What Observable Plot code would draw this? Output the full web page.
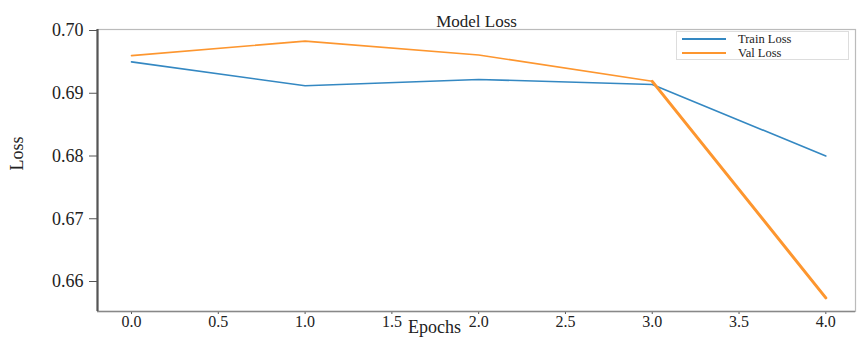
<!DOCTYPE html>
<html>
<head>
<meta charset="utf-8">
<script src="https://cdn.jsdelivr.net/npm/d3@7"></script>
<script src="https://cdn.jsdelivr.net/npm/@observablehq/plot@0.6"></script>
<style>
  html, body { margin: 0; padding: 0; background: #fff; }
  #wrap { position: relative; width: 858px; height: 338px; font-family: "Liberation Serif", "DejaVu Serif", serif; }
  #legend { position: absolute; left: 676px; top: 31px; width: 173px; height: 29px; border: 1px solid #ddd; background: #fff; box-sizing: border-box; font-size: 12.5px; color: #222; }
  .row { position: absolute; left: 5px; height: 14px; display: flex; align-items: center; }
  .sw { width: 44px; height: 2px; margin-right: 12px; }
  .lab { line-height: 14px; }
  svg text { font-family: "Liberation Serif", "DejaVu Serif", serif !important; font-variant: normal !important; }
</style>
</head>
<body>
<div id="wrap"></div>
<script>
const epochs = [0, 1, 2, 3, 4];
const trainLoss = [0.6950, 0.6912, 0.6922, 0.6914, 0.6800];
const valLoss = [0.6960, 0.6983, 0.6961, 0.6919, 0.6574];
const xTicks = [0, 0.5, 1, 1.5, 2, 2.5, 3, 3.5, 4];
const yTicks = [0.66, 0.67, 0.68, 0.69, 0.70];
const seriesNames = ["Train Loss", "Val Loss"];
const seriesColors = ["#3488c2", "#fd962f"];

const train = epochs.map((e, i) => ({epoch: e, loss: trainLoss[i]}));
const val = epochs.map((e, i) => ({epoch: e, loss: valLoss[i]}));
const xDomain = [-0.196, 4.171];
const yDomain = [0.65522, 0.70016];
const serif = "Liberation Serif, DejaVu Serif, serif";

const chart = Plot.plot({
  width: 858,
  height: 338,
  marginLeft: 97,
  marginRight: 3,
  marginTop: 29,
  marginBottom: 27,
  style: {fontFamily: serif, background: "#fff", overflow: "visible"},
  x: {domain: xDomain},
  y: {domain: yDomain},
  marks: [
    Plot.frame({stroke: "#bbb", strokeWidth: 1.2}),
    Plot.axisY({ticks: yTicks, tickFormat: d3.format(".2f"), tickSize: 8, tickPadding: 6, fontSize: 18, fontFamily: serif, stroke: "#555", color: "#222", label: null}),
    Plot.axisX({ticks: xTicks, tickFormat: d3.format(".1f"), tickSize: 3, tickPadding: 1, fontSize: 16, fontFamily: serif, stroke: "#555", color: "#222", label: null}),
    Plot.ruleY([yDomain[0]], {stroke: "#888", strokeWidth: 1.5}),
    Plot.ruleX([xDomain[0]], {stroke: "#555", strokeWidth: 2.2}),
    Plot.line(train, {x: "epoch", y: "loss", stroke: seriesColors[0], strokeWidth: 1.6}),
    Plot.line(val, {x: "epoch", y: "loss", stroke: seriesColors[1], strokeWidth: 1.6}),
    Plot.line(val.filter(d => d.epoch >= 3), {x: "epoch", y: "loss", stroke: seriesColors[1], strokeWidth: 3}),
    Plot.text(["Model Loss"], {frameAnchor: "top", dy: -15, fontSize: 17, fontFamily: serif, fill: "#222"}),
    Plot.text(["Epochs"], {frameAnchor: "bottom", dx: -42, dy: 21, fontSize: 18, fontFamily: serif, fill: "#222"}),
    Plot.text(["Loss"], {frameAnchor: "left", dx: -80, dy: 0, rotate: -90, fontSize: 18, fontFamily: serif, fill: "#222"})
  ]
});

d3.select(chart).selectAll("text").attr("font-family", serif).style("font-family", serif);

const wrap = document.getElementById("wrap");
wrap.appendChild(chart);
const legend = document.createElement("div");
legend.id = "legend";
seriesNames.forEach((name, i) => {
  const row = document.createElement("div");
  row.className = "row";
  row.style.top = (i * 14) + "px";
  const sw = document.createElement("div");
  sw.className = "sw";
  sw.style.background = seriesColors[i];
  const lab = document.createElement("span");
  lab.className = "lab";
  lab.textContent = name;
  row.appendChild(sw);
  row.appendChild(lab);
  legend.appendChild(row);
});
wrap.appendChild(legend);
</script>
</body>
</html>
